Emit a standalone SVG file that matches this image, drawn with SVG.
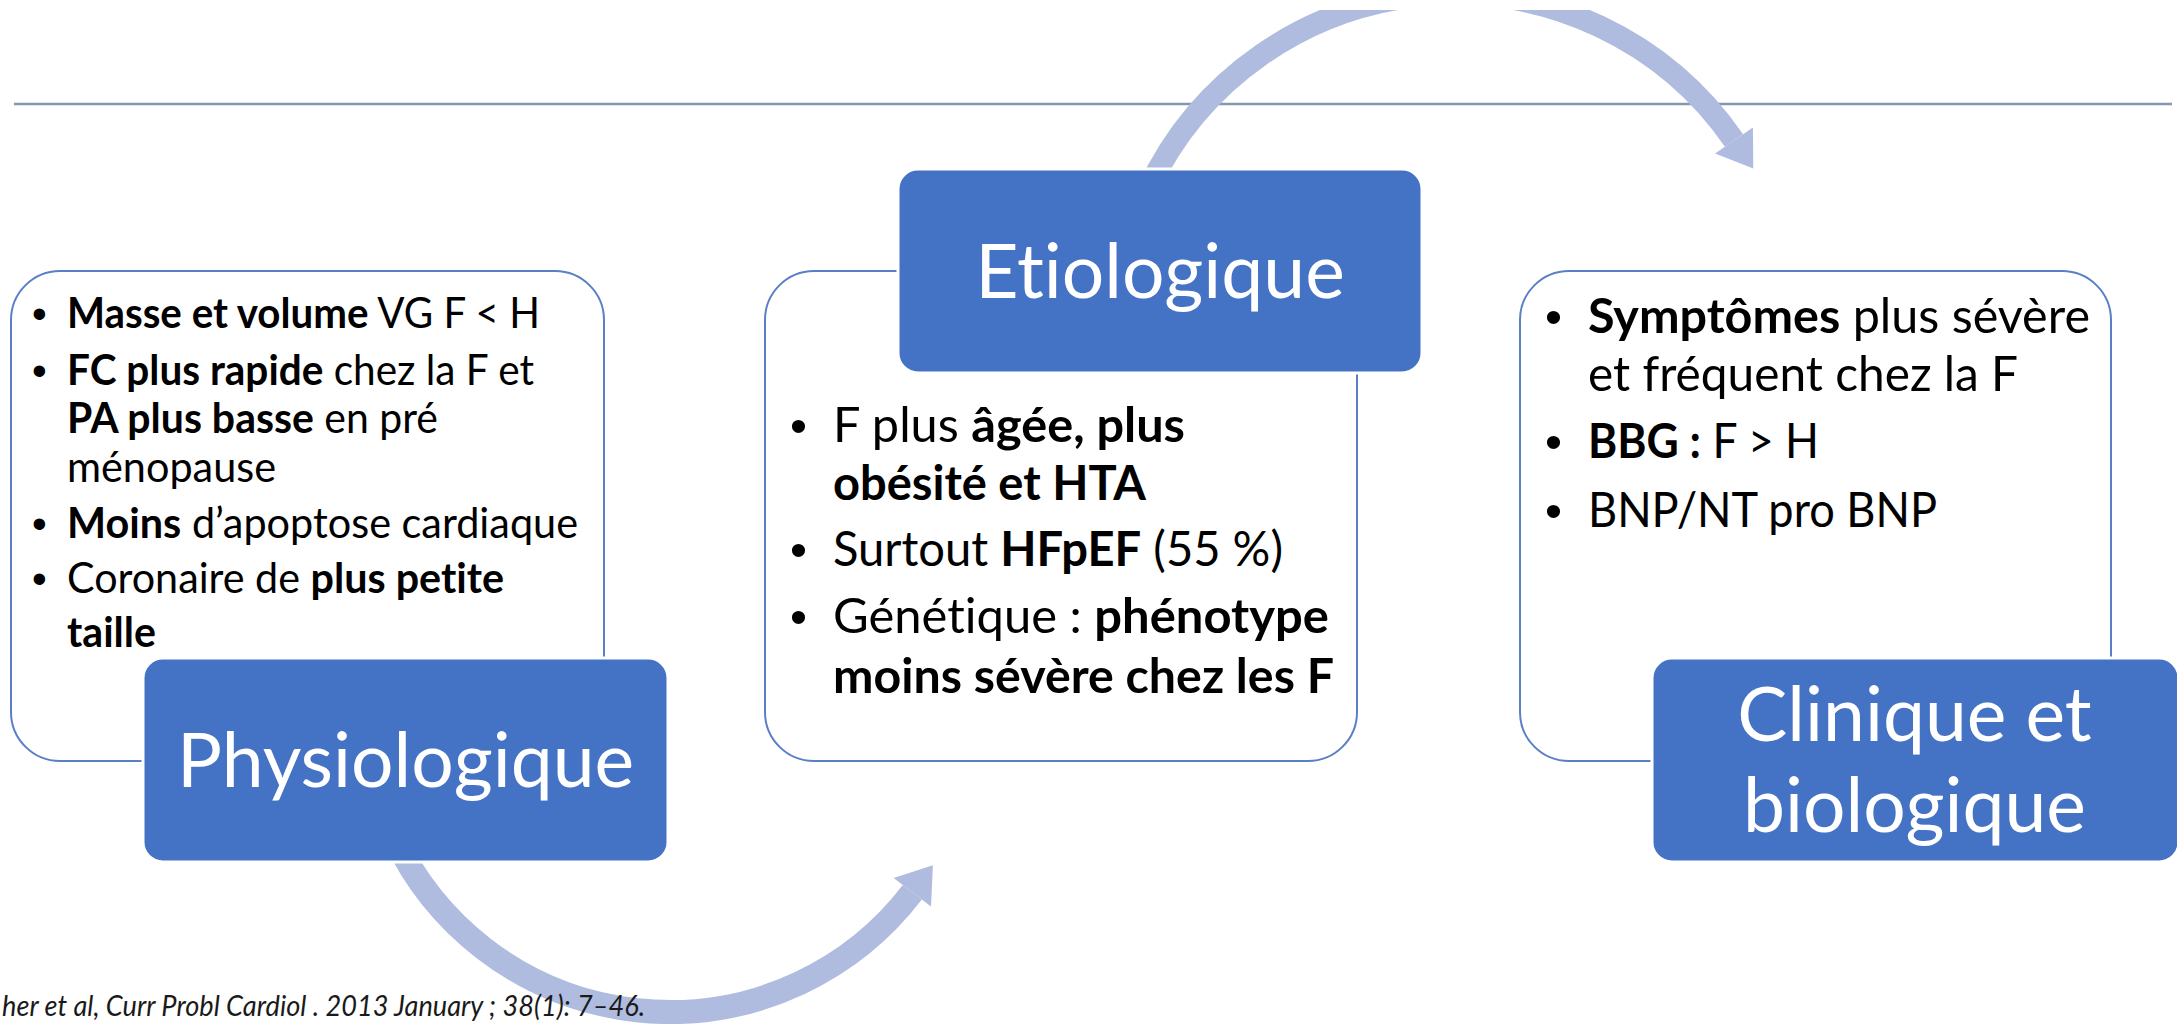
<svg xmlns="http://www.w3.org/2000/svg" width="2177" height="1024" viewBox="0 0 2177 1024">
<defs>
<style>
text{font-variant-ligatures:none}
.content{fill:#ffffff;stroke:#5a7fc7;stroke-width:2}
.title{fill:#4472c4;stroke:#ffffff;stroke-width:3}
.ttl{font-family:Lato,"Open Sans",sans-serif;font-size:75px;fill:#ffffff;text-anchor:middle}
.b1{font-family:Lato,"Open Sans",sans-serif;font-size:42px;fill:#000000}
.b2{font-family:Lato,"Open Sans",sans-serif;font-size:48.5px;fill:#000000}
.bul{font-family:"Liberation Sans",Arial,sans-serif}
.bold{font-weight:bold}
.arc{fill:none;stroke:#afbcdf}
.head{fill:#afbcdf}
.cite{font-family:Lato,"Liberation Sans",sans-serif;font-style:italic;font-size:28px;fill:#1a1a1a}
</style>
<clipPath id="clipTop"><rect x="0" y="10" width="2177" height="1014"/></clipPath>
</defs>
<rect x="0" y="0" width="2177" height="1024" fill="#ffffff"/>
<line x1="14" y1="104" x2="2172" y2="104" stroke="#8496b0" stroke-width="2.5"/>

<g id="connectors" clip-path="url(#clipTop)">
<path class="arc" stroke-width="22" d="M 1147.8 189.7 A 339 339 0 0 1 1734.0 140.5"/>
<polygon class="head" points="1752.9,127.4 1753.3,168.5 1715.1,153.6"/>
<path class="arc" stroke-width="24" d="M 393.6 835.9 A 305 305 0 0 0 912.3 892.3"/>
<polygon class="head" points="931.0,906.6 932.9,865.3 893.6,878.0"/>
</g>

<g id="physiologique">
<rect class="content" x="11" y="271" width="593" height="490" rx="49" ry="49"/>
<text class="b1 bul" x="32" y="328">•</text>
<text class="b1" x="67" y="328" textLength="473" lengthAdjust="spacingAndGlyphs"><tspan class="bold">Masse et volume</tspan> VG F &lt; H</text>
<text class="b1 bul" x="32" y="385">•</text>
<text class="b1" x="67" y="385" textLength="467" lengthAdjust="spacingAndGlyphs"><tspan class="bold">FC plus rapide</tspan> chez la F et</text>
<text class="b1" x="67" y="433" textLength="371" lengthAdjust="spacingAndGlyphs"><tspan class="bold">PA plus basse</tspan> en pré</text>
<text class="b1" x="67" y="482" textLength="209" lengthAdjust="spacingAndGlyphs">ménopause</text>
<text class="b1 bul" x="32" y="538">•</text>
<text class="b1" x="67" y="538" textLength="511" lengthAdjust="spacingAndGlyphs"><tspan class="bold">Moins</tspan> d’apoptose cardiaque</text>
<text class="b1 bul" x="32" y="593">•</text>
<text class="b1" x="67" y="593" textLength="437" lengthAdjust="spacingAndGlyphs">Coronaire de <tspan class="bold">plus petite</tspan></text>
<text class="b1 bold" x="67" y="647" textLength="89" lengthAdjust="spacingAndGlyphs">taille</text>
<rect class="title" x="143" y="658" width="525" height="204" rx="20" ry="20"/>
<text class="ttl" x="405.5" y="787">Physiologique</text>
</g>

<g id="etiologique">
<rect class="content" x="765" y="271" width="592" height="490" rx="49" ry="49"/>
<rect class="title" x="898" y="169" width="524" height="204" rx="20" ry="20"/>
<text class="ttl" x="1160" y="298">Etiologique</text>
<text class="b2 bul" x="790" y="442">•</text>
<text class="b2" x="833" y="442" textLength="352" lengthAdjust="spacingAndGlyphs">F plus <tspan class="bold">âgée, plus</tspan></text>
<text class="b2 bold" x="833" y="500" textLength="313" lengthAdjust="spacingAndGlyphs">obésité et HTA</text>
<text class="b2 bul" x="790" y="566">•</text>
<text class="b2" x="833" y="566" textLength="450" lengthAdjust="spacingAndGlyphs">Surtout <tspan class="bold">HFpEF</tspan> (55 %)</text>
<text class="b2 bul" x="790" y="633">•</text>
<text class="b2" x="833" y="633" textLength="496" lengthAdjust="spacingAndGlyphs">Génétique : <tspan class="bold">phénotype</tspan></text>
<text class="b2 bold" x="833" y="693" textLength="501" lengthAdjust="spacingAndGlyphs">moins sévère chez les F</text>
</g>

<g id="clinique">
<rect class="content" x="1520" y="271" width="591" height="490" rx="49" ry="49"/>
<text class="b2 bul" x="1545" y="333">•</text>
<text class="b2" x="1588" y="333" textLength="502" lengthAdjust="spacingAndGlyphs"><tspan class="bold">Symptômes</tspan> plus sévère</text>
<text class="b2" x="1588" y="391" textLength="430" lengthAdjust="spacingAndGlyphs">et fréquent chez la F</text>
<text class="b2 bul" x="1545" y="458">•</text>
<text class="b2" x="1588" y="458" textLength="231" lengthAdjust="spacingAndGlyphs"><tspan class="bold">BBG :</tspan> F &gt; H</text>
<text class="b2 bul" x="1545" y="527">•</text>
<text class="b2" x="1588" y="527" textLength="349" lengthAdjust="spacingAndGlyphs">BNP/NT pro BNP</text>
<rect class="title" x="1652" y="658" width="527" height="204" rx="20" ry="20"/>
<text class="ttl" x="1914.5" y="741">Clinique et</text>
<text class="ttl" x="1914.5" y="832">biologique</text>
</g>

<text class="cite" x="2" y="1016" textLength="643" lengthAdjust="spacingAndGlyphs">her et al, Curr Probl Cardiol . 2013 January ; 38(1): 7–46.</text>
</svg>
